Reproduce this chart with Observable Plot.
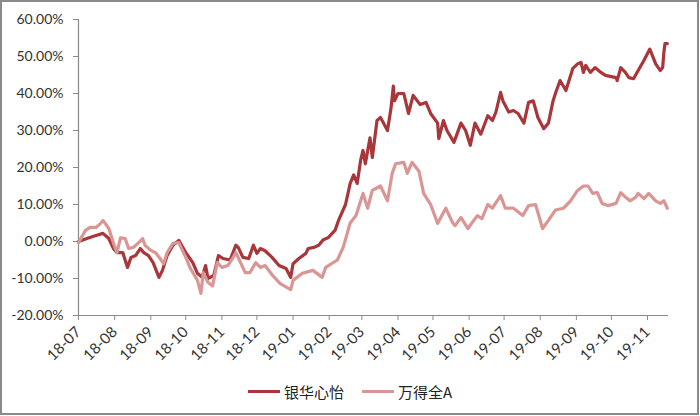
<!DOCTYPE html>
<html><head><meta charset="utf-8">
<script src="https://cdn.jsdelivr.net/npm/d3@7"></script>
<script src="https://cdn.jsdelivr.net/npm/@observablehq/plot@0.6"></script>
<style>
body{margin:0;background:#fff;}
#wrap{position:relative;width:700px;height:416px;overflow:hidden;font-family:Lato,"Noto Sans CJK SC",sans-serif;background:#fff;}
#frame{position:absolute;left:0;top:0;width:699px;height:415px;border:2px solid #8a8a8a;box-sizing:border-box;pointer-events:none;}
#chart{position:absolute;left:0;top:0;}
#legend{position:absolute;top:381px;left:248px;display:flex;align-items:center;font-family:"Noto Sans CJK SC",sans-serif;font-size:15px;color:#222;}
.item{display:flex;align-items:center;margin-right:18px;}
.sw{width:32px;height:3.5px;margin-right:4px;}
</style>
</head><body>
<div id="wrap"><div id="chart"></div><div id="legend"></div><div id="frame"></div></div>
<script>
const startDate = "2018-07-01";
const seriesNames = ["银华心怡", "万得全A"];
const seriesColors = ["#a8363a", "#d99694"];
const monthLabels = ["18-07","18-08","18-09","18-10","18-11","18-12","19-01","19-02","19-03","19-04","19-05","19-06","19-07","19-08","19-09","19-10","19-11"];
const yTicks = [-20, -10, 0, 10, 20, 30, 40, 50, 60];
const endDate = "2019-11-19";

// 银华心怡: day offset from startDate, cumulative return (%)
const fundDays = [0,9,15,21,26,30,33,38,42,45,49,53,56,60,64,69,72,76,81,86,92,98,102,106,109,111,116,120,124,130,135,137,141,146,150,153,156,160,166,172,178,182,184,189,195,197,202,206,210,214,220,223,229,233,236,239,242,244,246,250,252,256,259,265,268,270,271,274,279,283,287,293,298,302,308,309,313,316,322,328,332,336,340,345,351,355,358,362,364,369,373,377,382,386,390,394,399,403,407,409,413,418,424,428,431,433,435,439,443,448,452,461,462,465,469,472,476,480,485,490,495,499,501,502,503,505];
const fundValues = [0,1.0,1.6,2.2,0.8,-1.9,-3,-3,-7,-4.3,-3.8,-1.9,-3,-3.8,-5.7,-9.7,-7.8,-3.8,-1,0.3,-3,-5.7,-8.6,-9.7,-6.5,-10,-9.2,-3.8,-4.6,-5,-1,-1.6,-4.3,-4.6,-1,-3.2,-1.9,-2.5,-4.3,-6.5,-7.3,-9.7,-6,-4.6,-3.2,-1.9,-1.6,-1,0.5,1,3,5.7,10,15.7,18,15.7,22,24.6,21,28,22.7,32.7,33.5,30,36,42,38,40,40,34.6,39.5,37,37.6,34.6,32,27.8,32.7,30,26.8,32,30,26,32,29,34,32.7,35,40.3,38,35,35.4,34.6,32,37.6,38,33.5,30.5,32,38,40,43.5,40.8,46.8,48,48.4,45.7,47.6,45.7,47,45.7,44.9,44.3,43.5,47,45.7,44.3,44,46.2,49,52,48,46.2,47,51,53.5,53.5];

// 万得全A: day offset from startDate, cumulative return (%)
const indexDays = [0,6,10,15,19,21,26,30,33,36,40,43,47,51,55,57,62,66,70,73,76,81,86,92,96,102,105,107,111,115,119,123,128,132,135,139,143,147,152,156,160,166,173,182,184,192,201,209,212,222,227,233,238,242,244,248,252,259,265,269,272,279,282,286,292,296,302,308,315,321,323,328,334,342,346,351,355,362,366,373,381,386,392,398,403,409,416,422,428,433,437,441,445,449,454,461,465,469,473,478,480,485,489,495,499,502,505];
const indexValues = [-0.3,3,3.8,3.8,4.9,5.7,3.5,-0.5,-3,1,0.8,-1.9,-1.6,-0.5,0.8,-1,-2.4,-3,-4.6,-6,-3,-0.5,-0.3,-4.3,-7.3,-10.5,-14,-8.4,-11,-12,-5.7,-7,-6.5,-4.6,-3,-5.7,-8.4,-8.4,-5.7,-7,-6.5,-9,-11.4,-13,-10.5,-8.6,-7.8,-9.7,-7,-5,-1.6,5,7,11,13,9,13.8,15,11,18.4,21,21.4,18.4,21.4,19,13,10,4.9,9,5,4.3,6.5,3.5,7,6.2,10,9,12.4,9,9,7,9.7,10,3.5,5.7,8.5,9,11,13.8,15,15,13,13.2,10.3,9.7,10.3,13.2,12,11,12,13,11.6,13,11,10.3,11,9];

const t0 = d3.utcParse("%Y-%m-%d")(startDate);
const toDate = d => d3.utcDay.offset(t0, d);
const rows = [];
fundDays.forEach((d, i) => rows.push({date: toDate(d), value: fundValues[i], series: seriesNames[0]}));
indexDays.forEach((d, i) => rows.push({date: toDate(d), value: indexValues[i], series: seriesNames[1]}));
const monthDates = monthLabels.map(s => d3.utcParse("%y-%m")(s));
const xDomain = [t0, d3.utcParse("%Y-%m-%d")(endDate)];
const gray = "#8a8a8a";

const chart = Plot.plot({
  width: 700, height: 370,
  marginLeft: 78, marginRight: 32, marginTop: 19, marginBottom: 55,
  style: {fontFamily: "Lato, sans-serif", fontSize: "14px", color: "#333", background: "transparent"},
  x: {type: "utc", domain: xDomain, axis: null},
  y: {domain: [yTicks[0], yTicks[yTicks.length - 1]], axis: null},
  color: {domain: seriesNames, range: seriesColors},
  marks: [
    Plot.ruleX([xDomain[0]], {stroke: gray, strokeWidth: 1.2}),
    Plot.ruleY([yTicks[0]], {stroke: gray, strokeWidth: 1.2}),
    Plot.axisY(yTicks, {tickSize: 5, tickPadding: 10, stroke: gray, strokeOpacity: 1, tickFormat: d => d.toFixed(2) + "%", label: null, fill: "#333", fontSize: 14}),
    Plot.axisX(monthDates, {tickSize: 5, tickPadding: 9, tickRotate: -45, stroke: gray, strokeOpacity: 1, tickFormat: d3.utcFormat("%y-%m"), label: null, fill: "#333", fontSize: 15}),
    Plot.line(rows, {x: "date", y: "value", z: "series", stroke: "series", strokeWidth: 3.2, strokeLinejoin: "round", curve: "linear"})
  ]
});
document.getElementById("chart").appendChild(chart);

const legend = document.getElementById("legend");
seriesNames.forEach((n, i) => {
  const it = document.createElement("div");
  it.className = "item";
  const sw = document.createElement("div");
  sw.className = "sw";
  sw.style.background = seriesColors[i];
  const tx = document.createElement("span");
  tx.textContent = n;
  it.appendChild(sw); it.appendChild(tx);
  legend.appendChild(it);
});
</script>
</body></html>
